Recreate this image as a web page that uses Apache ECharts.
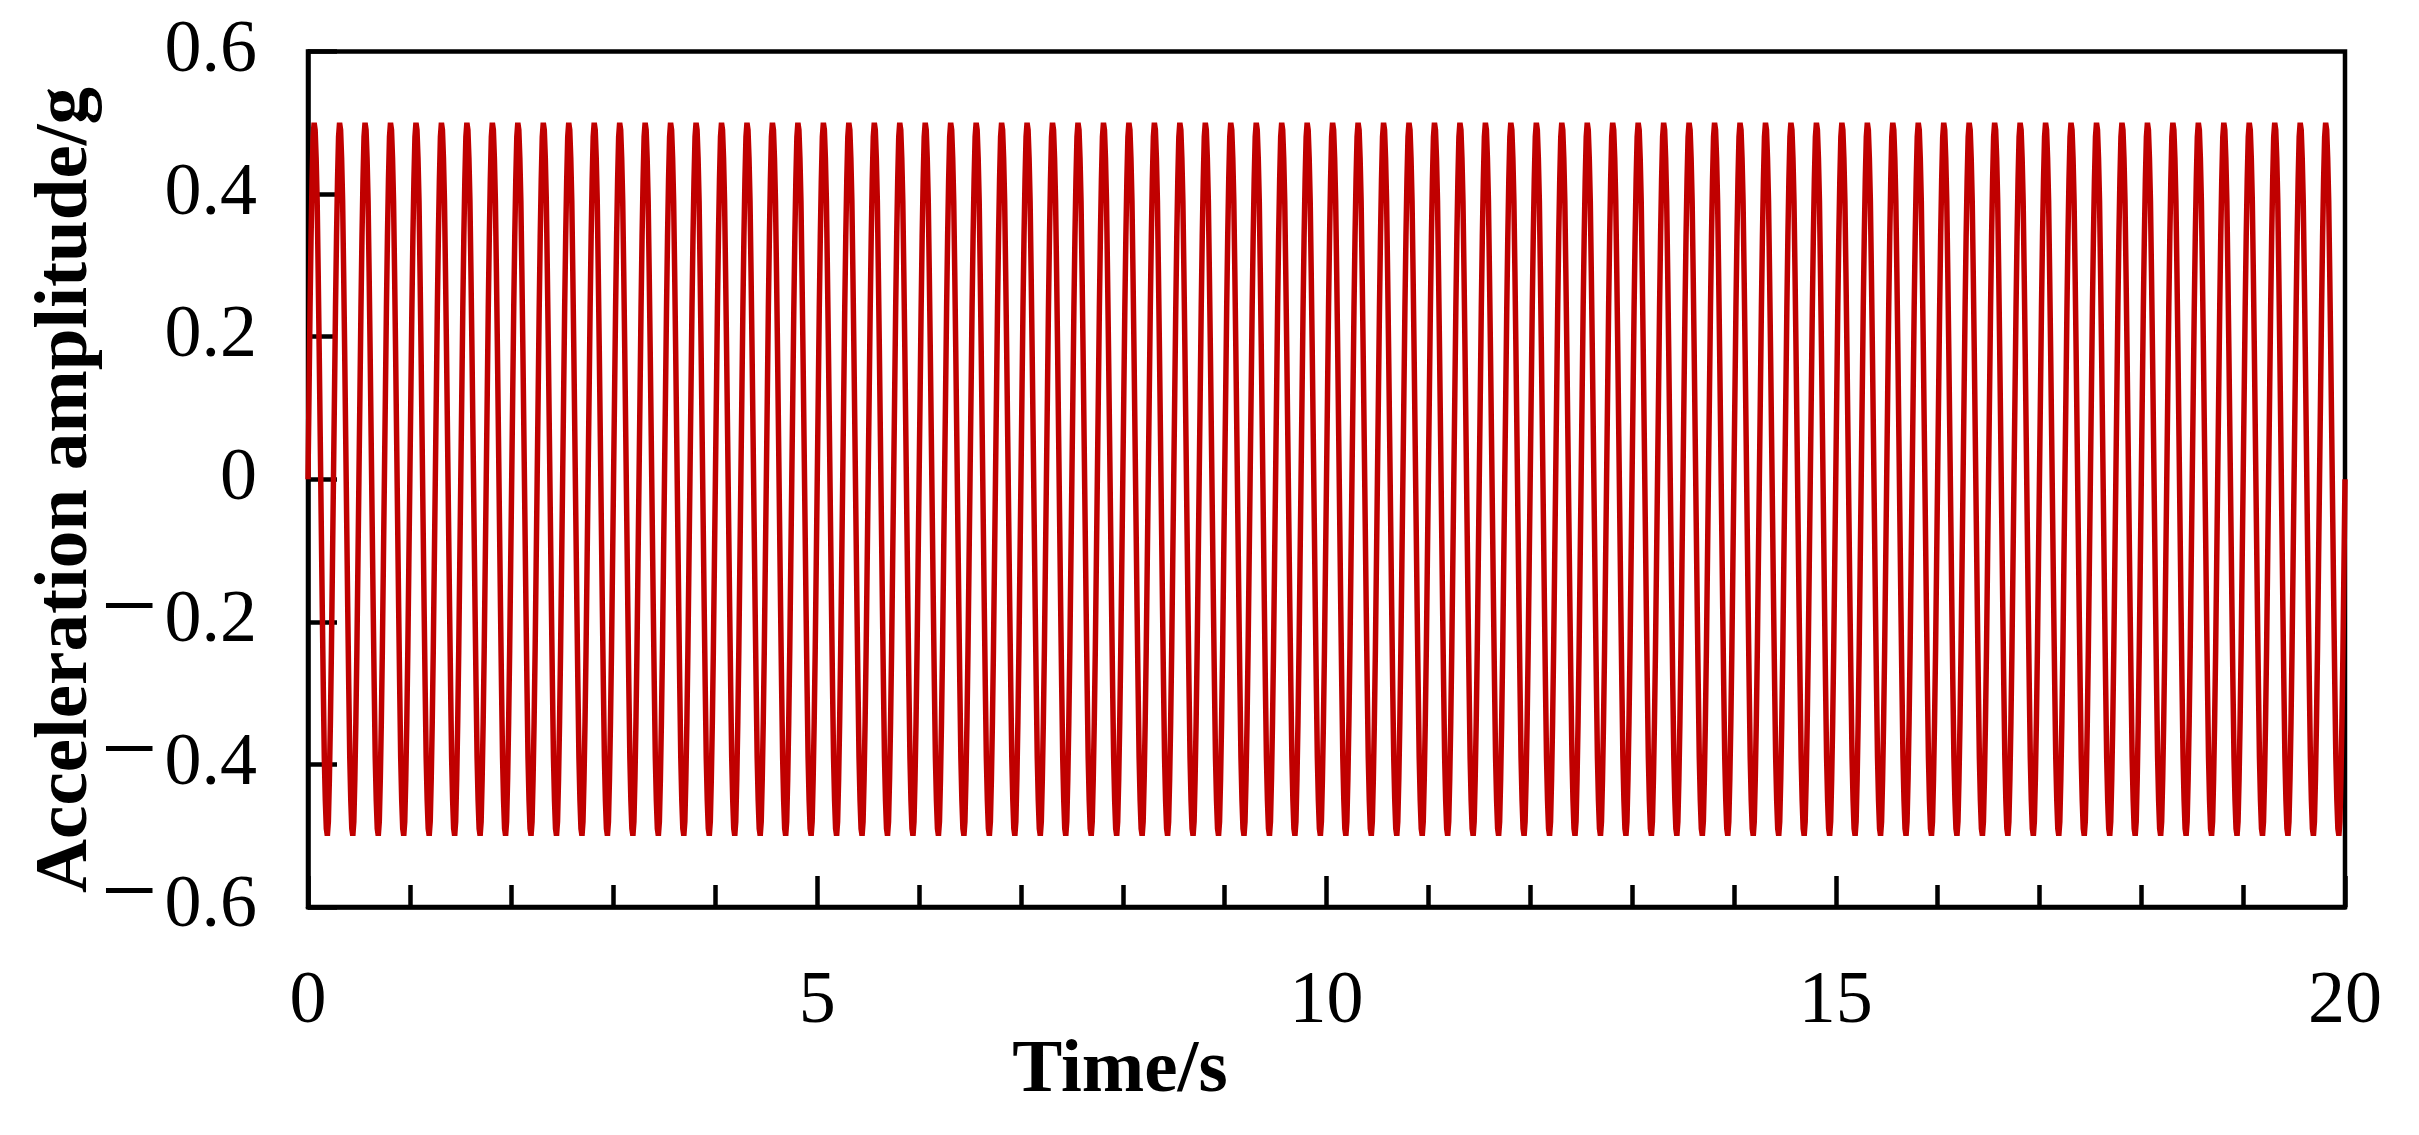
<!DOCTYPE html>
<html>
<head>
<meta charset="utf-8">
<script src="https://cdn.jsdelivr.net/npm/echarts@6/dist/echarts.min.js"></script>
<style>
  html, body { margin: 0; padding: 0; background: #fff; }
  #chart { width: 2419px; height: 1135px; }
</style>
</head>
<body>
<div id="chart"></div>
<script>
const cycleValues = [0, 0.12, 0.24, 0.34, 0.42, 0.48, 0.50, 0.49, 0.45, 0.39, 0.29, 0.18, 0.06,
                     -0.06, -0.18, -0.29, -0.39, -0.45, -0.49, -0.50, -0.48, -0.42, -0.34, -0.24, -0.12];
const cycleCount = 80;        // periods visible over 0–20 s
const sampleStep = 0.01;      // s between samples
const endValue = 0;           // value at t = 20 s

const xTickLabels = ['0', '5', '10', '15', '20'];
const yTickLabels = ['−0.6', '−0.4', '−0.2', '0', '0.2', '0.4', '0.6'];

const xAxisTitle = 'Time/s';
const yAxisTitle = 'Acceleration amplitude/g';

// Build the series from the read period
const seriesData = [];
let idx = 0;
for (let c = 0; c < cycleCount; c++) {
  for (let k = 0; k < cycleValues.length; k++) {
    seriesData.push([+(idx * sampleStep).toFixed(2), cycleValues[k]]);
    idx++;
  }
}
seriesData.push([+(idx * sampleStep).toFixed(2), endValue]);

const FONT = "'Liberation Serif', 'Times New Roman', serif";
const chart = echarts.init(document.getElementById('chart'), null, { renderer: 'canvas' });

chart.setOption({
  animation: false,
  backgroundColor: '#ffffff',
  grid: {
    left: 308, right: 74, top: 51.5, bottom: 228,
    show: true, borderColor: '#000', borderWidth: 4.5, backgroundColor: 'transparent'
  },
  xAxis: {
    type: 'value', min: 0, max: 20, interval: 5,
    axisLine: { show: true, onZero: false, lineStyle: { color: '#000', width: 4.5 } },
    axisTick: { show: true, inside: true, length: 31, lineStyle: { color: '#000', width: 4.5 } },
    minorTick: { show: true, splitNumber: 5, length: 22, lineStyle: { color: '#000', width: 4.5 } },
    splitLine: { show: false },
    axisLabel: {
      margin: 59, color: '#000', fontSize: 74, fontFamily: FONT,
      formatter: function (v) { return xTickLabels[Math.round(v / 5)]; }
    }
  },
  yAxis: {
    type: 'value', min: -0.6, max: 0.6, interval: 0.2,
    axisLine: { show: true, onZero: false, lineStyle: { color: '#000', width: 4.5 } },
    axisTick: { show: true, inside: true, length: 29, lineStyle: { color: '#000', width: 4.5 } },
    splitLine: { show: false },
    axisLabel: {
      margin: 51, color: '#000', fontSize: 74, fontFamily: FONT,
      formatter: function (v) {
        const lab = yTickLabels[Math.round((v + 0.6) / 0.2)];
        if (lab.charAt(0) === '−') return '{m|−}{n|' + lab.slice(1) + '}';
        return '{n|' + lab + '}';
      },
      rich: {
        m: { fontSize: 100, fontFamily: FONT, color: '#000', padding: [0, 7, 18, 0] },
        n: { fontSize: 74, fontFamily: FONT, color: '#000' }
      }
    }
  },
  graphic: [
    {
      type: 'text', x: 1120, y: 1072,
      style: { text: xAxisTitle, fill: '#000', font: "bold 75px 'Liberation Serif'", textAlign: 'center', textVerticalAlign: 'middle' }
    },
    {
      type: 'text', x: 67, y: 490, rotation: Math.PI / 2,
      style: { text: yAxisTitle, fill: '#000', font: "bold 75px 'Liberation Serif'", textAlign: 'center', textVerticalAlign: 'middle' }
    }
  ],
  series: [{
    type: 'line',
    data: seriesData,
    showSymbol: false,
    sampling: null,
    lineStyle: { color: '#C00000', width: 5.5 },
    clip: true
  }]
});
</script>
</body>
</html>
